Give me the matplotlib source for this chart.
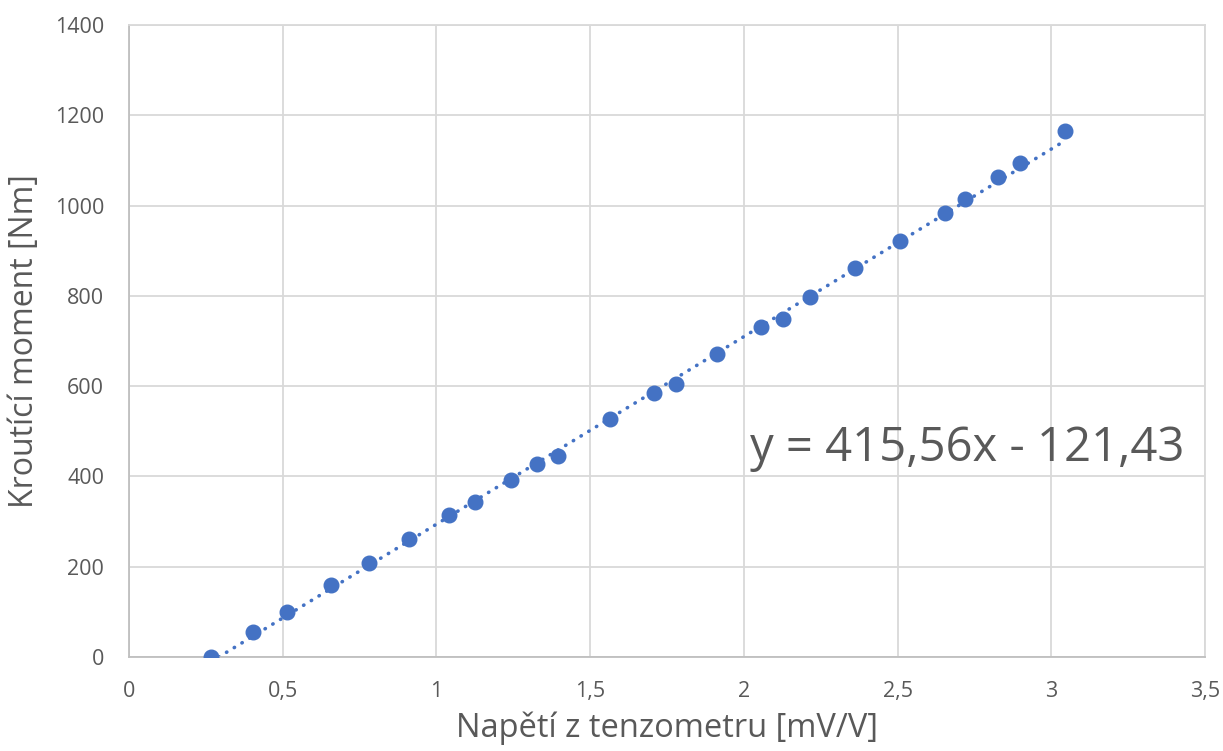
import matplotlib.pyplot as plt
import numpy as np

# Data
napeti = [0.267, 0.403, 0.514, 0.657, 0.781, 0.911, 1.041, 1.126, 1.243, 1.327,
          1.396, 1.565, 1.708, 1.779, 1.913, 2.056, 2.127, 2.215, 2.362, 2.508,
          2.655, 2.720, 2.827, 2.899, 3.045]
moment = [0, 55, 100, 160, 208, 261, 315, 343, 392, 428,
          445, 527, 585, 605, 671, 731, 749, 797, 862, 922,
          984, 1015, 1063, 1094, 1165]

slope, intercept = 415.56, -121.43
x_ticks = [0, 0.5, 1, 1.5, 2, 2.5, 3, 3.5]
y_ticks = [0, 200, 400, 600, 800, 1000, 1200, 1400]

plt.rcParams['font.family'] = ['Open Sans', 'DejaVu Sans']
blue = '#4472C4'
grey_text = '#595959'
grid_col = '#d9d9d9'

fig = plt.figure(figsize=(12.23, 7.51), dpi=100)
ax = fig.add_axes([0.1055, 0.1252, 0.8798, 0.8415])

# Trendline (dotted)
xs = np.array([min(napeti), max(napeti)])
ax.plot(xs, slope * xs + intercept, color=blue, linestyle=(0, (0.1, 2.4)),
        linewidth=2.6, dash_capstyle='round', zorder=2)
ax.plot(napeti, moment, 'o', color=blue, markersize=10.5, zorder=3)

ax.set_xlim(0, 3.5)
ax.set_ylim(0, 1400)
ax.set_xticks(x_ticks)
ax.set_yticks(y_ticks)
ax.set_xticklabels([('%g' % t).replace('.', ',') for t in x_ticks])
ax.set_yticklabels([str(t) for t in y_ticks])
ax.tick_params(length=0, labelsize=15.5, colors=grey_text)
ax.tick_params(axis='x', pad=17)
ax.tick_params(axis='y', pad=18)
ax.grid(True, color=grid_col, linewidth=1.3)
ax.set_axisbelow(True)
for s in ax.spines.values():
    s.set_color(grid_col)
    s.set_linewidth(1.3)
ax.spines['bottom'].set_color('#bfbfbf')
ax.spines['left'].set_color('#bfbfbf')

ax.set_xlabel('Napětí z tenzometru [mV/V]', fontsize=23.5, color=grey_text, labelpad=7)
ax.set_ylabel('Kroutící moment [Nm]', fontsize=23, color=grey_text, labelpad=10)

ax.text(2.02, 462, 'y = 415,56x - 121,43', fontsize=34, color=grey_text,
        ha='left', va='center')

fig.savefig('out.png', dpi=100)
